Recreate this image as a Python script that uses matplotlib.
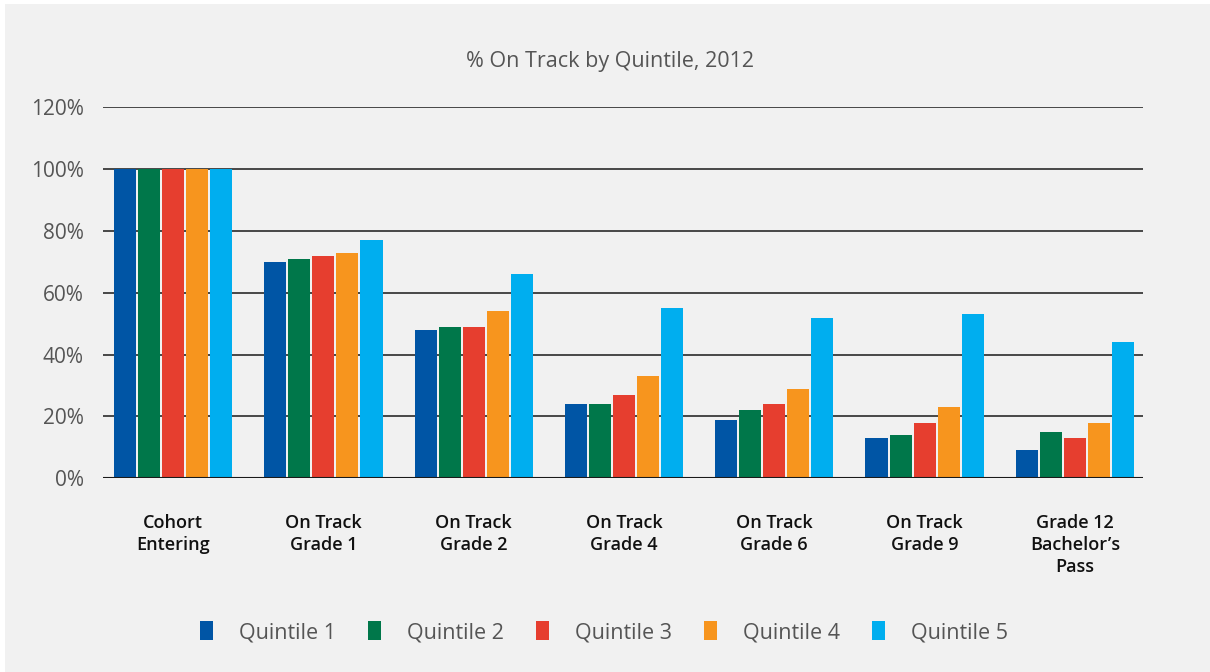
import matplotlib
matplotlib.use("Agg")
import matplotlib.pyplot as plt
import numpy as np
from matplotlib.patches import Rectangle

categories = ["Cohort\nEntering", "On Track\nGrade 1", "On Track\nGrade 2", "On Track\nGrade 4",
              "On Track\nGrade 6", "On Track\nGrade 9", "Grade 12\nBachelor\u2019s\nPass"]
series_names = ["Quintile 1", "Quintile 2", "Quintile 3", "Quintile 4", "Quintile 5"]
q1 = [100, 70, 48, 24, 19, 13, 9]
q2 = [100, 71, 49, 24, 22, 14, 15]
q3 = [100, 72, 49, 27, 24, 18, 13]
q4 = [100, 73, 54, 33, 29, 23, 18]
q5 = [100, 77, 66, 55, 52, 53, 44]
yticks = [0, 20, 40, 60, 80, 100, 120]
ytick_labels = ["0%", "20%", "40%", "60%", "80%", "100%", "120%"]
colors = ["#0055A5", "#00774A", "#E63E2F", "#F7951E", "#00AEEF"]

plt.rcParams['font.family'] = ['Open Sans', 'DejaVu Sans']

W, H = 1210, 672
fig = plt.figure(figsize=(W / 100, H / 100), dpi=100, facecolor="white")
fig.patches.append(Rectangle((5 / W, 0), 1 - 5 / W, 1 - 4 / H, transform=fig.transFigure,
                             facecolor="#f1f1f1", edgecolor="none", zorder=-10))

# axes: x 103..1143, y 0% at 478.3, 120% at 107.3
x0, x1 = 103, 1143
y_bot, y_top = 478.3, 107.3
ax = fig.add_axes([x0 / W, (H - y_bot) / H, (x1 - x0) / W, (y_bot - y_top) / H])
ax.set_facecolor("none")

data = [q1, q2, q3, q4, q5]
x = np.arange(len(categories))
pitch = 0.16
width = 0.147
for i, (vals, c, name) in enumerate(zip(data, colors, series_names)):
    ax.bar(x + (i - 2) * pitch, vals, width=width, color=c, label=name, zorder=3)

ax.set_ylim(0, 120)
ax.set_xlim(-0.466, 6.453)
ax.set_yticks(yticks)
ax.set_yticklabels(ytick_labels, fontsize=15, color="#555555")
ax.yaxis.grid(True, color="#3a3a3a", linewidth=1.3, zorder=1)
ax.set_axisbelow(True)
for s in ax.spines.values():
    s.set_visible(False)
ax.tick_params(axis="y", length=0, pad=14)
ax.tick_params(axis="x", length=0, pad=26)
ax.set_xticks(x)
ax.set_xticklabels(categories, fontsize=13, fontweight="semibold", color="#111111",
                   linespacing=1.27, va="top")
ax.axhline(0, color="#1a1a1a", linewidth=1.5, zorder=4)

fig.text(610 / W, 1 - 61 / H, "% On Track by Quintile, 2012", ha="center", va="center",
         fontsize=15.5, color="#555555")

leg = fig.legend(loc="center", bbox_to_anchor=(604 / W, 1 - 632 / H), ncol=5, frameon=False,
                 fontsize=15.5, handlelength=0.6, handleheight=1.0, handletextpad=1.2,
                 columnspacing=1.5)
for t in leg.get_texts():
    t.set_color("#555555")

fig.savefig("out.png", dpi=100, facecolor=fig.get_facecolor())
